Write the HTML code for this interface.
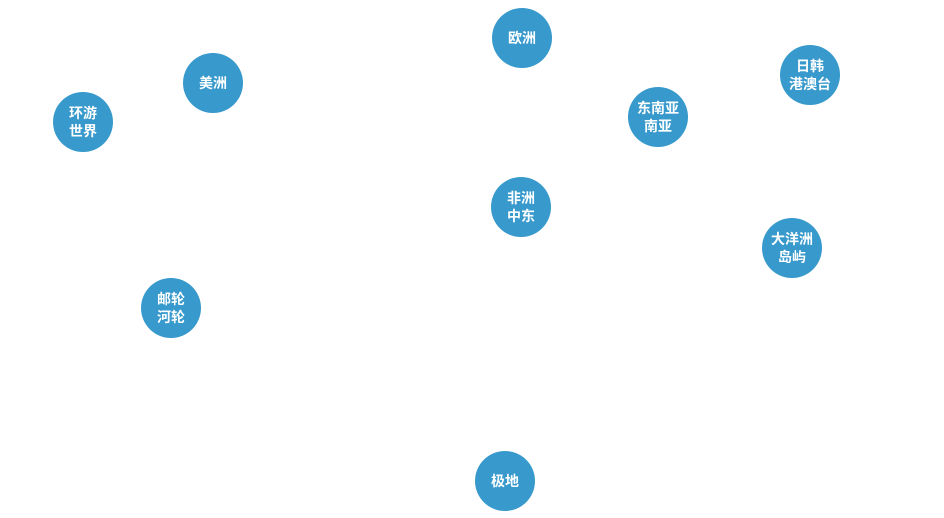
<!DOCTYPE html>
<html><head><meta charset="utf-8"><style>
html,body{margin:0;padding:0;background:#fff;width:944px;height:518px;overflow:hidden;position:relative}
.n{position:absolute;width:60px;height:60px;border-radius:50%;background:#3799cc;color:#fff;display:flex;align-items:center;justify-content:center;text-align:center;font-family:"Liberation Sans","Noto Sans CJK SC",sans-serif;font-size:14px;line-height:18px;font-weight:bold}
</style></head><body>
<div class="n" style="left:492px;top:8px">欧洲</div>
<div class="n" style="left:183px;top:53px">美洲</div>
<div class="n" style="left:53px;top:92px">环游<br>世界</div>
<div class="n" style="left:780px;top:45px">日韩<br>港澳台</div>
<div class="n" style="left:628px;top:87px">东南亚<br>南亚</div>
<div class="n" style="left:491px;top:177px">非洲<br>中东</div>
<div class="n" style="left:762px;top:218px">大洋洲<br>岛屿</div>
<div class="n" style="left:141px;top:278px">邮轮<br>河轮</div>
<div class="n" style="left:475px;top:451px">极地</div>
</body></html>
